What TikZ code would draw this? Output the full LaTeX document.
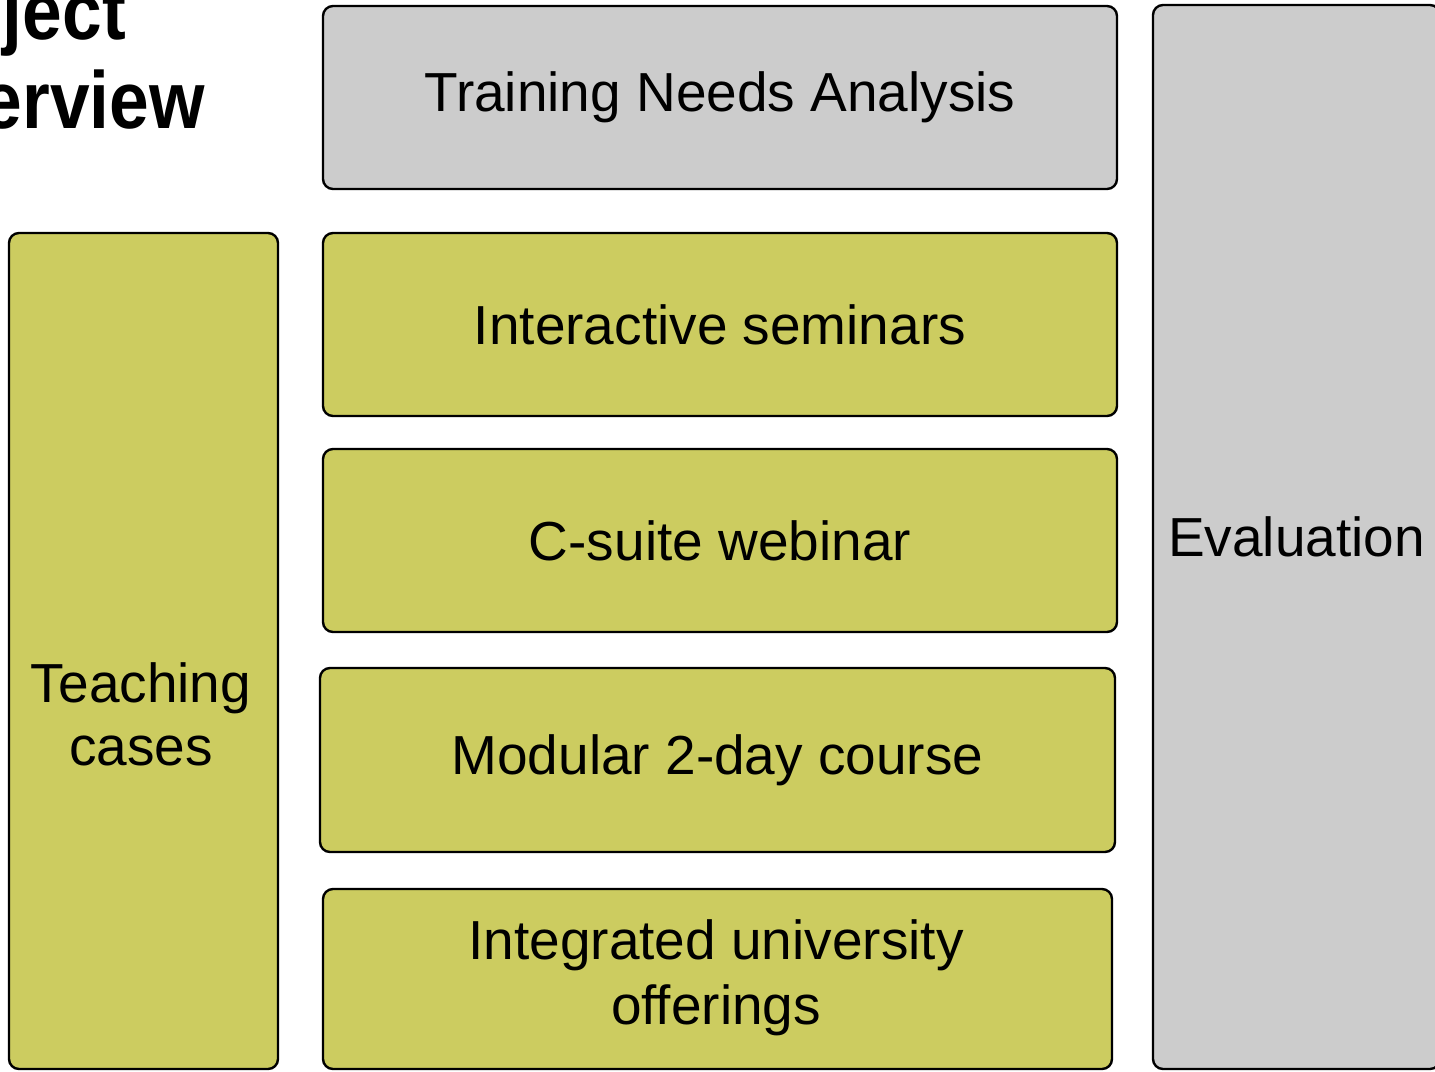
\documentclass[tikz,border=0pt]{standalone}
\usepackage{fontspec}
\setmainfont{Liberation Sans}
\definecolor{boxgray}{RGB}{204,204,204}
\definecolor{boxolive}{RGB}{204,204,96}
\tikzset{
  box/.style={draw=black, line width=2.4pt, rounded corners=10pt, inner sep=0pt,
    align=center, font=\fontsize{55}{63}\selectfont},
  graybox/.style={box, fill=boxgray},
  olivebox/.style={box, fill=boxolive},
  titletext/.style={inner sep=0pt, font=\fontsize{81}{90}\selectfont\bfseries}
}
\begin{document}
\begin{tikzpicture}[x=1pt,y=-1pt]
\useasboundingbox (0,0) rectangle (1435,1071);
% title (partly cut off)
\node[titletext, anchor=base east] (title1) at (126,39) {\scalebox{0.88}[1]{Project}};
\node[titletext, anchor=base east] (title2) at (205,128) {\scalebox{0.88}[1]{Overview}};
% middle column
\node[graybox, minimum width=794pt, minimum height=183pt] (tna) at (720,97.5) {Training Needs Analysis};
\node[olivebox, minimum width=794pt, minimum height=183pt] (sem) at (720,324.5) {Interactive seminars};
\node[olivebox, minimum width=794pt, minimum height=183pt] (web) at (720,540.5) {C-suite webinar};
\node[olivebox, minimum width=795pt, minimum height=184pt] (mod) at (717.5,760) {Modular 2-day course};
\node[olivebox, minimum width=789pt, minimum height=180pt] (uni) at (717.5,979) {};
\node[inner sep=0pt, align=center, font=\fontsize{55}{65}\selectfont] (unitxt) at (716,978) {Integrated university\\offerings};
% left column
\node[olivebox, minimum width=269pt, minimum height=836pt] (teach) at (143.5,651) {};
\node[inner sep=0pt, align=center, font=\fontsize{55}{63}\selectfont] (teachtxt) at (141,714) {Teaching\\cases};
% right column
\node[graybox, minimum width=287pt, minimum height=1064pt] (eval) at (1296.5,537) {Evaluation};
\end{tikzpicture}
\end{document}
